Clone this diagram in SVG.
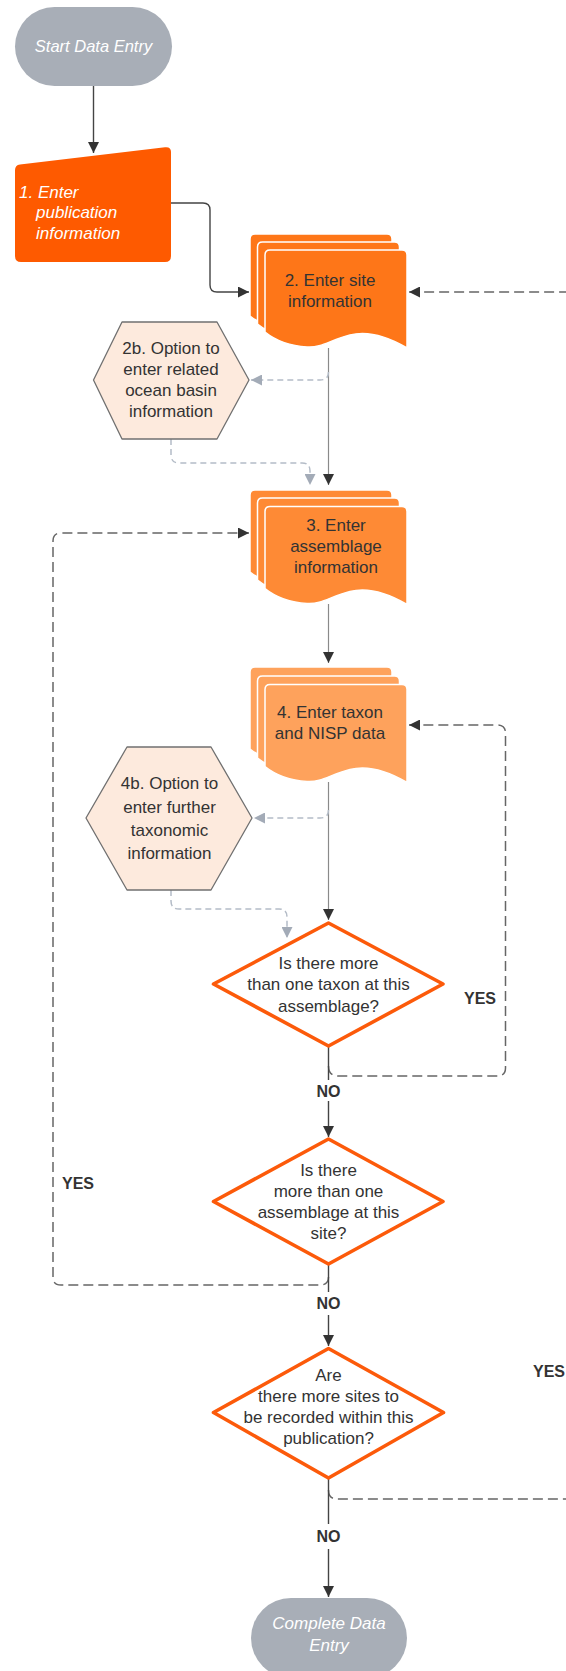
<svg xmlns="http://www.w3.org/2000/svg" xmlns:xlink="http://www.w3.org/1999/xlink" width="566" height="1671" viewBox="0 0 566 1671">
<style>
text{font-family:"Liberation Sans",Arial,sans-serif;font-size:17px;text-anchor:middle}
.dark{fill:#333}
.wi{fill:#fff;font-style:italic}
.lbl{font-size:16px;font-weight:bold;fill:#333}
.solid{fill:none;stroke:#444;stroke-width:1.4}
.thin{fill:none;stroke:#8a8a8a;stroke-width:1.2}
.dash{fill:none;stroke:#666;stroke-width:1.5;stroke-dasharray:10 5}
.ldash{fill:none;stroke:#b4bcc7;stroke-width:1.5;stroke-dasharray:6 4}
.dia{fill:#fff;stroke:#fc5a0a;stroke-width:3.6;stroke-linejoin:round}
.hex{fill:#fdeadd;stroke:#707070;stroke-width:1.3;stroke-linejoin:round}
.pill{fill:#a8aeb7}
.doc{stroke:#fff;stroke-width:1.5}
</style>
<defs>
<marker id="ah" viewBox="0 0 10 10" refX="10" refY="5" markerWidth="11" markerHeight="11" markerUnits="userSpaceOnUse" orient="auto"><path d="M0,0 L10,5 L0,10 z" fill="#333"/></marker>
<marker id="la" viewBox="0 0 10 10" refX="10" refY="5" markerWidth="11" markerHeight="11" markerUnits="userSpaceOnUse" orient="auto"><path d="M0,0 L10,5 L0,10 z" fill="#a3abb7"/></marker>
<path id="doc" d="M0,5 Q0,0 5,0 L137,0 Q142,0 142,5 L142,98 C125,88 105,80 85,85 C65,90 57,98 42,97 C25,96 10,90 0,82 Z"/>
</defs>

<g id="connectors">
<path class="solid" d="M93.5,86 L93.5,153" marker-end="url(#ah)"/>
<path class="solid" d="M171,203 L203,203 Q210,203 210,210 L210,285 Q210,292 217,292 L249,292" marker-end="url(#ah)"/>
<path class="dash" d="M328.5,1490 Q328.5,1499 337,1499 L600,1499 L600,292 L409,292" marker-end="url(#ah)"/>
<path class="thin" d="M328.5,348 L328.5,485" marker-end="url(#ah)"/>
<path class="ldash" d="M328.5,372 Q328.5,380 320,380 L251,380" marker-end="url(#la)"/>
<path class="ldash" d="M171,439 L171,455 Q171,463 179,463 L302,463 Q310,463 310,471 L310,485" marker-end="url(#la)"/>
<path class="thin" d="M328.5,604 L328.5,663" marker-end="url(#ah)"/>
<path class="dash" d="M328.5,1277 Q328.5,1285 320,1285 L61,1285 Q53,1285 53,1277 L53,541 Q53,533 61,533 L249,533" marker-end="url(#ah)"/>
<path class="thin" d="M328.5,782 L328.5,920" marker-end="url(#ah)"/>
<path class="ldash" d="M328.5,810 Q328.5,818 320,818 L254,818" marker-end="url(#la)"/>
<path class="ldash" d="M171,890 L171,901 Q171,909 179,909 L279,909 Q287,909 287,917 L287,938" marker-end="url(#la)"/>
<path class="dash" d="M328.5,1066 Q328.5,1076 338,1076 L497,1076 Q505.5,1076 505.5,1068 L505.5,733 Q505.5,725 497,725 L409,725" marker-end="url(#ah)"/>
<path class="solid" d="M328.5,1046 L328.5,1080"/>
<path class="solid" d="M328.5,1101 L328.5,1137" marker-end="url(#ah)"/>
<path class="solid" d="M328.5,1264 L328.5,1292"/>
<path class="solid" d="M328.5,1315 L328.5,1346" marker-end="url(#ah)"/>
<path class="solid" d="M328.5,1478 L328.5,1524"/>
<path class="solid" d="M328.5,1549 L328.5,1597" marker-end="url(#ah)"/>
<text class="lbl" x="328.5" y="1096.5">NO</text>
<text class="lbl" x="328.5" y="1309">NO</text>
<text class="lbl" x="328.5" y="1542">NO</text>
<text class="lbl" x="480" y="1004">YES</text>
<text class="lbl" x="78" y="1189">YES</text>
<text class="lbl" x="549" y="1377">YES</text>
</g>

<g id="start">
<rect class="pill" x="15" y="7" width="157" height="79" rx="39.5"/>
<text class="wi" x="93.5" y="52" style="font-size:16.5px">Start Data Entry</text>
</g>

<g id="node1">
<path d="M15,170 Q15,165 20,164.4 L165,147.3 Q171,146.6 171,152 L171,256 Q171,262 165,262 L21,262 Q15,262 15,256 Z" fill="#fe5a00"/>
<text class="wi" style="text-anchor:start" x="19" y="197.5">1. Enter</text>
<text class="wi" style="text-anchor:start" x="36" y="218">publication</text>
<text class="wi" style="text-anchor:start" x="36" y="238.5">information</text>
</g>

<g id="node2" fill="#fe7618">
<use href="#doc" class="doc" transform="translate(250,234)"/>
<use href="#doc" class="doc" transform="translate(257.5,242)"/>
<use href="#doc" class="doc" transform="translate(265,250)"/>
<text class="dark" x="330" y="286">2. Enter site</text>
<text class="dark" x="330" y="307">information</text>
</g>

<g id="node2b">
<polygon class="hex" points="122,322 217,322 249,380 217,439 122,439 93.5,380"/>
<text class="dark" x="171" y="354">2b. Option to</text>
<text class="dark" x="171" y="375">enter related</text>
<text class="dark" x="171" y="396">ocean basin</text>
<text class="dark" x="171" y="417">information</text>
</g>

<g id="node3" fill="#fe8a35">
<use href="#doc" class="doc" transform="translate(250,490)"/>
<use href="#doc" class="doc" transform="translate(257.5,498)"/>
<use href="#doc" class="doc" transform="translate(265,506.5)"/>
<text class="dark" x="336" y="531">3. Enter</text>
<text class="dark" x="336" y="552">assemblage</text>
<text class="dark" x="336" y="573">information</text>
</g>

<g id="node4" fill="#fea25c">
<use href="#doc" class="doc" transform="translate(250,667)"/>
<use href="#doc" class="doc" transform="translate(257.5,676)"/>
<use href="#doc" class="doc" transform="translate(265,684.5)"/>
<text class="dark" x="330" y="718">4. Enter taxon</text>
<text class="dark" x="330" y="739">and NISP data</text>
</g>

<g id="node4b">
<polygon class="hex" points="127,747 211,747 252,818 211,890 127,890 86,818"/>
<text class="dark" x="169.5" y="789">4b. Option to</text>
<text class="dark" x="169.5" y="812.5">enter further</text>
<text class="dark" x="169.5" y="836">taxonomic</text>
<text class="dark" x="169.5" y="859">information</text>
</g>

<g id="decision1">
<polygon class="dia" points="328.5,923 443,984 328.5,1046 213.5,984"/>
<text class="dark" x="328.5" y="969">Is there more</text>
<text class="dark" x="328.5" y="990">than one taxon at this</text>
<text class="dark" x="328.5" y="1011.5">assemblage?</text>
</g>

<g id="decision2">
<polygon class="dia" points="328.5,1139 443,1201.5 328.5,1264 213.5,1201.5"/>
<text class="dark" x="328.5" y="1176">Is there</text>
<text class="dark" x="328.5" y="1197">more than one</text>
<text class="dark" x="328.5" y="1218">assemblage at this</text>
<text class="dark" x="328.5" y="1239">site?</text>
</g>

<g id="decision3">
<polygon class="dia" points="328.5,1348.5 443.5,1412.5 328.5,1478 213.5,1412.5"/>
<text class="dark" x="328.5" y="1381">Are</text>
<text class="dark" x="328.5" y="1402">there more sites to</text>
<text class="dark" x="328.5" y="1423">be recorded within this</text>
<text class="dark" x="328.5" y="1443.5">publication?</text>
</g>

<g id="end">
<rect class="pill" x="251" y="1598" width="156" height="80" rx="40"/>
<text class="wi" x="329" y="1629">Complete Data</text>
<text class="wi" x="329" y="1651">Entry</text>
</g>
</svg>
